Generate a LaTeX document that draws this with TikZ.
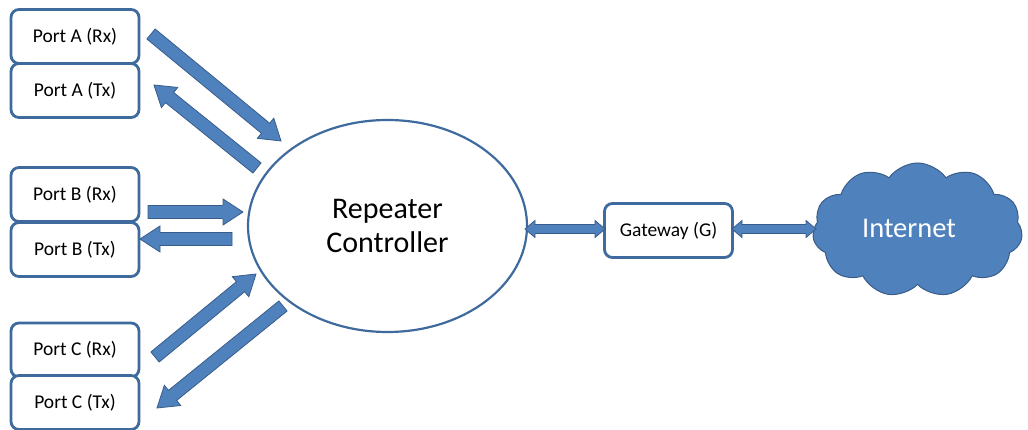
\documentclass[tikz,border=0pt]{standalone}
\usepackage{fontspec}
\setmainfont{Carlito}
\usetikzlibrary{calc,shapes.symbols,shapes.geometric}
\definecolor{boxline}{RGB}{62,106,158}
\definecolor{arrfill}{RGB}{79,129,189}
\definecolor{arrline}{RGB}{56,93,138}
\tikzset{
  portbox/.style={draw=boxline, line width=2.8pt, rounded corners=8pt, fill=white,
    minimum width=128pt, minimum height=54pt, inner sep=0pt,
    font=\fontsize{19.5}{23}\selectfont},
  fatarr/.style={fill=arrfill, draw=arrline, line width=0.8pt, line join=miter},
}
% single block arrow from #1 to #2
\newcommand\fatarrow[2]{%
  \path[fatarr] let \p1=(#1), \p2=(#2),
    \n1={atan2(\y2-\y1,\x2-\x1)}, \n2={veclen(\x2-\x1,\y2-\y1)} in
    [shift={(\p1)}, rotate=\n1]
    (0pt,-6.5pt) -- ({\n2-20pt},-6.5pt) -- ({\n2-20pt},-13pt) -- (\n2,0pt)
    -- ({\n2-20pt},13pt) -- ({\n2-20pt},6.5pt) -- (0pt,6.5pt) -- cycle;}
% double-headed block arrow from #1 to #2
\newcommand\dblarrow[2]{%
  \path[fatarr] let \p1=(#1), \p2=(#2),
    \n1={atan2(\y2-\y1,\x2-\x1)}, \n2={veclen(\x2-\x1,\y2-\y1)} in
    [shift={(\p1)}, rotate=\n1]
    (0pt,0pt) -- (10pt,8.5pt) -- (10pt,4.5pt) -- ({\n2-10pt},4.5pt) -- ({\n2-10pt},8.5pt)
    -- (\n2,0pt) -- ({\n2-10pt},-8.5pt) -- ({\n2-10pt},-4.5pt) -- (10pt,-4.5pt)
    -- (10pt,-8.5pt) -- cycle;}
\begin{document}
\begin{tikzpicture}[x=1pt,y=-1pt]
\useasboundingbox[fill=white] (0,0) rectangle (1028,430);
% ports
\node[portbox] (aRx) at (75,36.5) {Port A (Rx)};
\node[portbox] (aTx) at (75,90.5) {Port A (Tx)};
\node[portbox] (bRx) at (75,194.5) {Port B (Rx)};
\node[portbox] (bTx) at (75,249.5) {Port B (Tx)};
\node[portbox] (cRx) at (75,350) {Port C (Rx)};
\node[portbox] (cTx) at (75,402.5) {Port C (Tx)};
% controller
\node[ellipse, draw=boxline, line width=2.2pt, fill=white, minimum width=279pt,
  minimum height=212pt, inner sep=0pt, align=center,
  font=\fontsize{30}{34}\selectfont] (rc) at (387.5,226) {Repeater\\Controller};
% gateway
\node[portbox] (gw) at (668.5,230.5) {Gateway (G)};
% cloud
\node[cloud, cloud puffs=11, cloud puff arc=110, aspect=1.55, fill=arrfill, draw=arrline,
  line width=1pt, minimum width=210pt, minimum height=134pt, inner sep=0pt,
  text=white, font=\fontsize{28.5}{33}\selectfont] (net) at (917.5,230) {};
\node[text=white, font=\fontsize{28.5}{33}\selectfont] (nettxt) at (909,228) {Internet};
% arrow end points
\coordinate (aRxS) at (151,34);
\coordinate (aRxE) at (281,141);
\coordinate (aTxS) at (257,168);
\coordinate (aTxE) at (154,85);
\coordinate (bRxS) at (148,212);
\coordinate (bRxE) at (243,212);
\coordinate (bTxS) at (232,239);
\coordinate (bTxE) at (140,239);
\coordinate (cRxS) at (155,357);
\coordinate (cRxE) at (256,274);
\coordinate (cTxS) at (283,306);
\coordinate (cTxE) at (157,408);
\coordinate (g1S) at (525,229);
\coordinate (g1E) at (605,229);
\coordinate (g2S) at (732,229);
\coordinate (g2E) at (816,229);
\fatarrow{aRxS}{aRxE}
\fatarrow{aTxS}{aTxE}
\fatarrow{bRxS}{bRxE}
\fatarrow{bTxS}{bTxE}
\fatarrow{cRxS}{cRxE}
\fatarrow{cTxS}{cTxE}
\dblarrow{g1S}{g1E}
\dblarrow{g2S}{g2E}
\end{tikzpicture}
\end{document}
